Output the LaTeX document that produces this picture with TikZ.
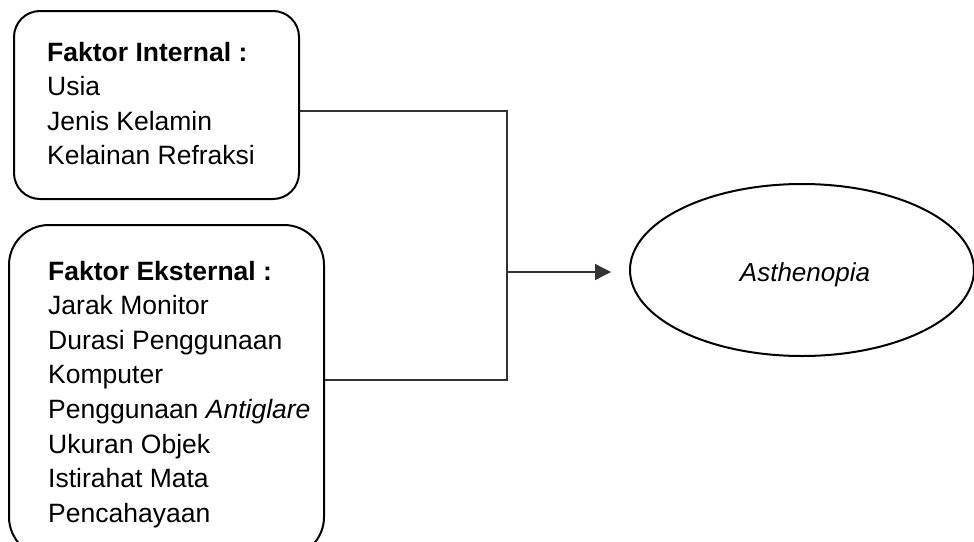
\documentclass[tikz,border=0pt]{standalone}
\usepackage{fontspec}
\setmainfont{Liberation Sans}
\usetikzlibrary{arrows.meta,shapes.geometric}
\tikzset{
  factorbox/.style={draw=black, line width=2pt, anchor=north west, inner sep=0pt},
  factortext/.style={anchor=base west, inner sep=0pt, font=\fontsize{26.5}{34.6}\selectfont},
  conn/.style={draw=black!80, line width=1.4pt},
  arr/.style={conn, -{Triangle[length=16pt,width=16pt]}},
  outcome/.style={ellipse, draw=black, line width=2pt, inner sep=0pt}
}
\begin{document}
\begin{tikzpicture}[x=1pt,y=-1pt]
\useasboundingbox (0,0) rectangle (974,541);
\clip (0,0) rectangle (974,541);
% boxes
\node[factorbox, rounded corners=26pt, minimum width=285pt, minimum height=188pt] (int) at (13,10) {};
\node[factorbox, rounded corners=40pt, minimum width=315pt, minimum height=332pt] (ext) at (8,224) {};
\node[factortext] (inttext) at (47,61) {\parbox[t]{260pt}{\textbf{Faktor Internal :}\\Usia\\Jenis Kelamin\\Kelainan Refraksi}};
\node[factortext] (exttext) at (48,280) {\parbox[t]{275pt}{\textbf{Faktor Eksternal :}\\Jarak Monitor\\Durasi Penggunaan\\Komputer\\Penggunaan \textit{Antiglare}\\Ukuran Objek\\Istirahat Mata\\Pencahayaan}};
% outcome
\node[outcome, minimum width=344pt, minimum height=172pt] (ast) at (802,270) {};
\node[anchor=base, inner sep=0pt, font=\fontsize{26}{30}\selectfont\itshape] (asttext) at (805,281) {Asthenopia};
% connectors
\coordinate (jt) at (507,111);
\coordinate (jb) at (507,380);
\coordinate (j) at (507,272);
\draw[conn] (int.east |- jt) -- (jt) -- (jb) -- (ext.east |- jb);
\draw[arr, shorten >=18pt] (j) -- (ast.west |- j);
\end{tikzpicture}
\end{document}
